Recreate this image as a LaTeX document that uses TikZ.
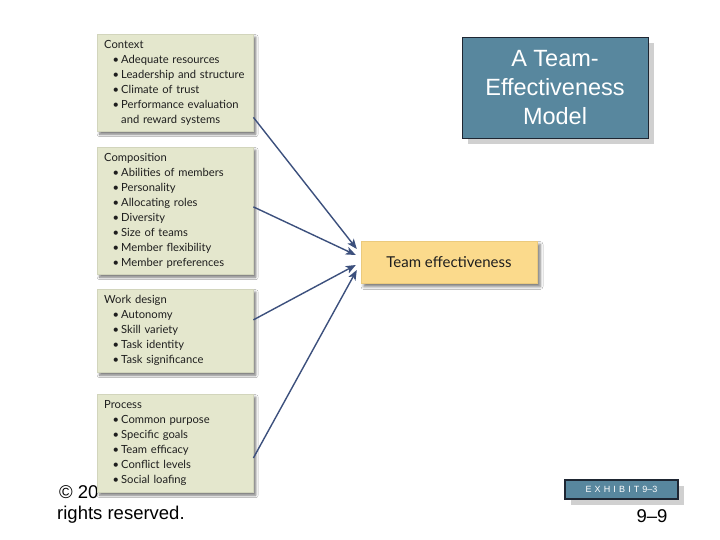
\documentclass[tikz,border=0pt]{standalone}
\usepackage{fontspec}
\setmainfont{Lato}
\newfontfamily\arialf{Liberation Sans}
\usetikzlibrary{arrows.meta,shadows,shadows.blur,calc}
\definecolor{boxfill}{RGB}{228,231,205}
\definecolor{boxline}{RGB}{210,213,188}
\definecolor{tefill}{RGB}{251,218,140}
\definecolor{teline}{RGB}{235,202,125}
\definecolor{steel}{RGB}{88,135,158}
\definecolor{steelline}{RGB}{30,38,50}
\definecolor{arrowc}{RGB}{60,80,125}
\definecolor{txt}{RGB}{30,30,30}
\definecolor{shade}{RGB}{208,208,208}
\newcommand\bul{\hspace*{8.5pt}\makebox[8.5pt][l]{\textbullet}}
\newcommand\cont{\hspace*{17pt}}
\begin{document}
\begin{tikzpicture}[x=1pt,y=-1pt,
  factor/.style={draw=boxline,fill=boxfill,anchor=north west,text width=142pt,
    inner xsep=7pt,inner ysep=0pt,align=left,font=\fontsize{11.2}{15}\selectfont,text=txt,
    blur shadow={shadow xshift=2.5pt,shadow yshift=-3pt,shadow blur radius=2.5pt,shadow opacity=55}},
  result/.style={draw=teline,fill=tefill,minimum width=176pt,minimum height=42pt,inner sep=0pt,
    font=\fontsize{15}{17}\selectfont,text=txt,
    blur shadow={shadow xshift=3pt,shadow yshift=-3.5pt,shadow blur radius=3pt,shadow opacity=55}},
  steelbox/.style={draw=steelline,fill=steel,text=white,inner sep=0pt,align=center,
    drop shadow={shadow xshift=6pt,shadow yshift=-6pt,fill=shade,opacity=1}},
  plain/.style={font=\arialf\fontsize{18.5}{20}\selectfont,text=black,inner sep=0pt},
  link/.style={draw=arrowc,line width=1.4pt,-{Stealth[length=10pt,width=8pt,inset=2.5pt]}}
]
\useasboundingbox[fill=white] (0,0) rectangle (720,540);

\node[plain,anchor=west] (copy) at (59,492) {© 20};
\node[plain,anchor=west] (rights) at (57,515) {rights reserved.};

\node[factor,minimum height=97pt] (ctx) at (97,34) {Context\\
\bul Adequate resources\\
\bul Leadership and structure\\
\bul Climate of trust\\
\bul Performance evaluation\\
\cont and reward systems};

\node[factor,minimum height=127pt] (comp) at (97,147) {Composition\\
\bul Abilities of members\\
\bul Personality\\
\bul Allocating roles\\
\bul Diversity\\
\bul Size of teams\\
\bul Member flexibility\\
\bul Member preferences};

\node[factor,minimum height=83pt] (work) at (97,289) {Work design\\
\bul Autonomy\\
\bul Skill variety\\
\bul Task identity\\
\bul Task significance};

\node[factor,minimum height=98pt] (proc) at (97,394) {Process\\
\bul Common purpose\\
\bul Specific goals\\
\bul Team efficacy\\
\bul Conflict levels\\
\bul Social loafing};

\node[result] (te) at (449,262) {Team effectiveness};

\draw[link] ($(ctx.south east)!0.144!(ctx.north east)$) -- ($(te.west)+(-4,-13)$);
\draw[link] ($(comp.south east)!0.53!(comp.north east)$) -- ($(te.west)+(-5,-7)$);
\draw[link] ($(work.south east)!0.63!(work.north east)$) -- ($(te.west)+(-5,3)$);
\draw[link] ($(proc.south east)!0.35!(proc.north east)$) -- ($(te.west)+(-4,8)$);

\node[steelbox,line width=0.8pt,minimum width=186pt,minimum height=101pt,font=\arialf\fontsize{23.5}{29}\selectfont] (title) at (555,87.5) {A Team-\\Effectiveness\\Model};

\node[steelbox,line width=1.2pt,minimum width=113pt,minimum height=19pt,font=\arialf\fontsize{9}{10}\selectfont] (exh) at (621.5,489.5) {{\addfontfeature{LetterSpace=35}EXHIBIT}\hspace{3pt}9–3};

\node[plain] (page) at (652,516) {9–9};
\end{tikzpicture}
\end{document}
